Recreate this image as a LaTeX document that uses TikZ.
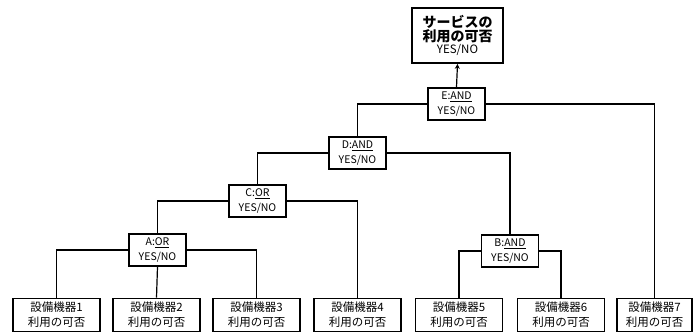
\documentclass[tikz,border=0pt]{standalone}
\usepackage{fontspec}
\setmainfont{Noto Sans CJK JP}
\usetikzlibrary{arrows.meta}
\tikzset{
  gate/.style={draw, line width=1.6pt, minimum width=57pt, minimum height=32pt, inner sep=0pt, align=center, font=\fontsize{10.5}{14.5}\selectfont},
  dev/.style={draw, line width=1.6pt, minimum width=87pt, minimum height=33pt, inner sep=0pt, align=center, font=\fontsize{11.5}{15}\selectfont},
  topbox/.style={draw, line width=1.8pt, minimum width=91pt, minimum height=55pt, inner sep=0pt, align=center},
  wire/.style={line width=1.2pt}
}
\begin{document}
\begin{tikzpicture}[x=1pt,y=-1pt]
\useasboundingbox (0,0) rectangle (694,333);
\node[topbox] (top) at (457.5,35.5) {{\fontsize{14}{18}\selectfont\bfseries サービスの}\\{\fontsize{14}{18}\selectfont\bfseries 利用の可否}\\{\fontsize{11.5}{16}\selectfont YES/NO}};
\node[gate] (E) at (456.5,104) {E:\underline{AND}\\YES/NO};
\node[gate] (D) at (357.5,153) {D:\underline{AND}\\YES/NO};
\node[gate] (C) at (257.5,201) {C:\underline{OR}\\YES/NO};
\node[gate] (A) at (157.5,250) {A:\underline{OR}\\YES/NO};
\node[gate] (B) at (510,251) {B:\underline{AND}\\YES/NO};
\node[dev] (d1) at (56.5,315) {設備機器1\\利用の可否};
\node[dev] (d2) at (156.5,315) {設備機器2\\利用の可否};
\node[dev] (d3) at (256.5,315) {設備機器3\\利用の可否};
\node[dev] (d4) at (357.5,315) {設備機器4\\利用の可否};
\node[dev] (d5) at (459,315) {設備機器5\\利用の可否};
\node[dev] (d6) at (561,315) {設備機器6\\利用の可否};
\node[dev, minimum width=75pt] (d7) at (654.5,315) {設備機器7\\利用の可否};
\draw[wire, -{Stealth[length=5pt,width=5pt]}] (E.north) -- (top.south);
\draw[wire] (E.west) -| (D.north);
\draw[wire] (E.east) -| (d7.north);
\draw[wire] (D.west) -| (C.north);
\draw[wire] (D.east) -| (B.north);
\draw[wire] (C.west) -| (A.north);
\draw[wire] (C.east) -| (d4.north);
\draw[wire] (A.west) -| (d1.north);
\draw[wire] (A.south) -- (d2.north);
\draw[wire] (A.east) -| (d3.north);
\draw[wire] (B.west) -| (d5.north);
\draw[wire] (B.east) -| (d6.north);
\end{tikzpicture}
\end{document}
